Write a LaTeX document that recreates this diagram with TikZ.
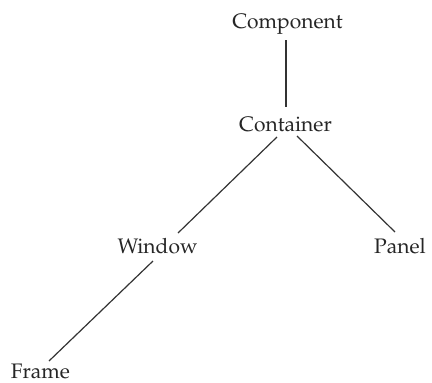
\documentclass[tikz,border=0pt]{standalone}
\usepackage[T1]{fontenc}
\usepackage{mathpazo}
\usetikzlibrary{calc}
\tikzset{
  cls/.style={anchor=base, inner sep=0pt, text=black!85, font=\fontsize{21}{25}\selectfont},
  link/.style={draw=black!80, line width=1.2pt}
}
\begin{document}
\begin{tikzpicture}[x=1pt,y=-1pt]
\useasboundingbox (0,0) rectangle (432,383);
\node[cls] (comp) at (287.5,28) {Component};
\node[cls] (cont) at (285.5,131) {Container};
\node[cls] (win) at (157.5,253) {Window};
\node[cls] (pan) at (400,253) {Panel};
\node[cls] (fra) at (40.5,378.5) {Frame};
\draw[link] ($(comp.base)+(-1.5,12)$) -- ($(cont.base)+(0.5,-24)$);
\draw[link] ($(cont.base)+(-8.5,6)$) -- ($(win.base)+(20.5,-20)$);
\draw[link] ($(cont.base)+(11.5,5)$) -- ($(pan.base)+(-5,-21)$);
\draw[link] ($(win.base)+(-4.5,8)$) -- ($(fra.base)+(8.5,-17.5)$);
\end{tikzpicture}
\end{document}
